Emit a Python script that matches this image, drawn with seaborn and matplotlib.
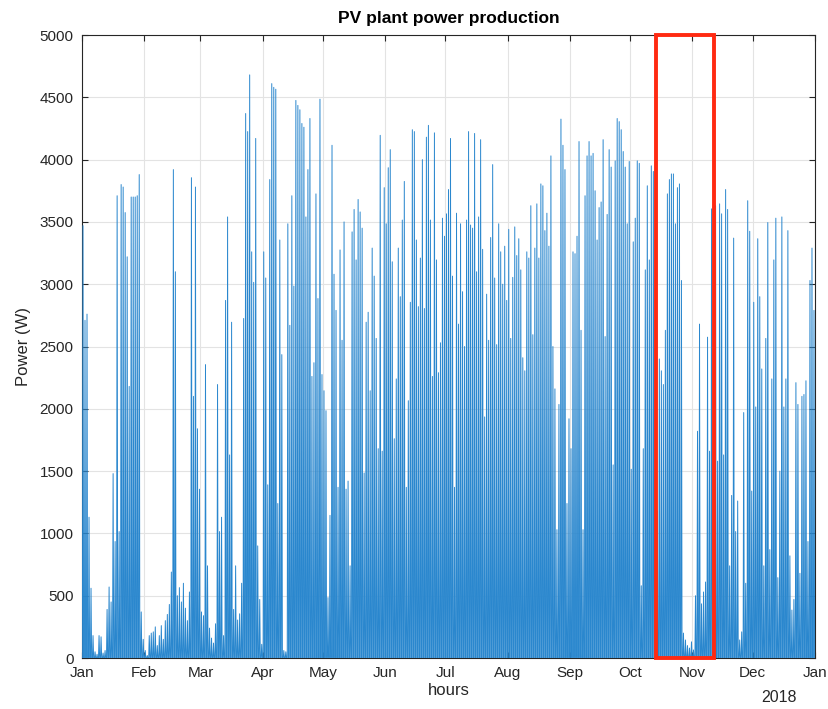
import numpy as np
import pandas as pd
import matplotlib
matplotlib.use("Agg")
import matplotlib.pyplot as plt
import matplotlib.dates as mdates
from matplotlib.patches import Rectangle
import seaborn as sns

# ---------------- data: daily peak power (W) ----------------
YEAR = 2018
jan = [3470, 2710, 2760, 1130, 560, 180, 50, 30, 180, 170, 40, 60, 390, 570, 450, 1480,
       935, 3710, 1015, 3800, 3780, 3575, 3220, 2180, 3700, 3700, 3700, 3710, 3880, 370, 150]
feb = [60, 20, 180, 200, 210, 250, 100, 180, 260, 150, 300, 350, 430, 690,
       3920, 3100, 500, 565, 450, 600, 400, 300, 530, 3855, 2100, 3780, 1840, 1355]
mar = [370, 340, 2355, 740, 240, 160, 120, 275, 2195, 1015, 1130, 180, 2870, 3540, 1630, 2695,
       390, 740, 305, 355, 600, 2725, 4370, 4225, 4680, 3260, 3015, 4170, 900, 470, 110]
apr = [3260, 3050, 1390, 3840, 4610, 4580, 4565, 1240, 3355, 2435, 60, 50, 3485, 2670, 3710,
       2985, 4475, 4435, 4400, 4290, 4260, 3540, 3920, 4330, 2260, 2370, 3725, 2885, 4485, 2275]
may = [2145, 1985, 485, 1145, 4115, 3080, 2790, 1370, 3275, 2550, 3500, 1355, 1420, 740, 3420,
       3600, 3195, 3680, 3580, 3450, 1485, 2695, 2775, 2145, 3290, 3065, 2565, 1680, 4195, 1660, 3775]
jun = [3485, 3935, 4080, 3180, 1760, 2240, 3290, 2900, 3515, 3825, 1370, 2065, 2855, 4240, 4225,
       3355, 2820, 3210, 4000, 2805, 4180, 4275, 3515, 2260, 4215, 3195, 2290, 2530, 3530, 3385]
jul = [3565, 3760, 4170, 3065, 1370, 3570, 2680, 3485, 2940, 2500, 3515, 4225, 3475, 3450, 4210,
       3100, 3540, 4160, 3280, 1935, 2920, 2550, 3375, 3960, 3050, 2515, 3485, 3260, 3000, 3305, 2870]
aug = [3440, 2565, 3055, 3460, 3230, 3365, 3115, 2410, 2305, 3260, 3210, 3630, 2595, 3290, 3645,
       3210, 3805, 3790, 3430, 3570, 3305, 4030, 2500, 2160, 1030, 2035, 4325, 4115, 3920, 1240, 1920]
sep = [1680, 3260, 3245, 3385, 4145, 2630, 1030, 3710, 4030, 4145, 4030, 4050, 3750, 3355, 3615,
       3660, 4160, 2580, 3560, 4080, 3940, 1550, 3990, 4330, 4305, 4240, 4065, 3940, 3485, 3985]
oct_ = [1515, 3340, 3530, 3990, 3970, 580, 1680, 3115, 3790, 3195, 3950, 3905, 3960, 1180, 2400,
        2305, 2195, 2630, 3725, 3840, 3885, 3885, 3485, 3775, 3805, 3030, 200, 145, 100, 80, 130]
nov = [65, 500, 1820, 2680, 435, 530, 610, 2575, 1660, 3605, 385, 3630, 1580, 3645, 3565,
       1630, 3760, 3600, 740, 1305, 3370, 1015, 1260, 145, 210, 1970, 600, 3670, 3425, 1340]
dec = [2855, 2015, 3365, 2900, 2320, 740, 2565, 3495, 870, 2240, 3195, 3530, 645, 1500, 3540,
       2015, 2240, 3430, 820, 385, 470, 2210, 2035, 680, 2100, 2115, 2225, 935, 3030, 3290, 2790]

month_ticks = ["Jan", "Feb", "Mar", "Apr", "May", "Jun", "Jul", "Aug", "Sep", "Oct", "Nov", "Dec", "Jan"]
y_ticks = list(range(0, 5001, 500))
highlight_start = "2018-10-14 00:00"
highlight_end = "2018-11-11 18:00"

# ---------------- build hourly-ish series (night 0, noon peak) ----------------
peaks = jan + feb + mar + apr + may + jun + jul + aug + sep + oct_ + nov + dec
days = pd.date_range(f"{YEAR}-01-01", periods=len(peaks), freq="D")
rows = []
for d, p in zip(days, peaks):
    rows.append((d + pd.Timedelta(hours=5), 0.0))
    rows.append((d + pd.Timedelta(hours=12), float(p)))
    rows.append((d + pd.Timedelta(hours=19), 0.0))
df = pd.DataFrame(rows, columns=["time", "power"])

# ---------------- plot ----------------
sns.set_style("ticks")
plt.rcParams["font.family"] = ["Liberation Sans", "DejaVu Sans"]

fig = plt.figure(figsize=(8.29, 7.09), dpi=100)
ax = fig.add_axes([0.0989, 0.0719, 0.8842, 0.8787])

sns.lineplot(data=df, x="time", y="power", estimator=None, sort=False,
             color="#2A87CE", linewidth=0.7, ax=ax)
for ln in ax.lines:
    ln.set_zorder(3)

ax.set_xlim(pd.Timestamp(f"{YEAR}-01-01"), pd.Timestamp(f"{YEAR + 1}-01-01"))
ax.set_ylim(0, 5000)
ax.set_yticks(y_ticks)
ax.set_yticklabels([str(v) for v in y_ticks])
xt = pd.date_range(f"{YEAR}-01-01", f"{YEAR + 1}-01-01", freq="MS")
ax.set_xticks(xt)
ax.set_xticklabels(month_ticks)

ax.grid(True, color="#E3E3E3", linewidth=0.8)
ax.set_axisbelow(True)
for s in ax.spines.values():
    s.set_color("#262626")
    s.set_linewidth(0.8)
    s.set_visible(True)
    s.set_zorder(2.5)
ax.tick_params(direction="in", length=4, width=0.8, color="#262626",
               labelsize=11, labelcolor="#262626", top=True, right=True,
               labeltop=False, labelright=False, pad=6)

ax.set_title("PV plant power production", fontsize=12.5, fontweight="bold",
             color="#000000", pad=9)
ax.set_ylabel("Power (W)", fontsize=12, color="#262626", labelpad=6)
ax.set_xlabel("hours", fontsize=12, color="#262626", labelpad=2)
ax.text(0.951, -0.051, str(YEAR), transform=ax.transAxes, ha="center", va="top",
        fontsize=11.5, color="#262626")

x0 = mdates.date2num(pd.Timestamp(highlight_start))
x1 = mdates.date2num(pd.Timestamp(highlight_end))
ax.add_patch(Rectangle((x0, 0), x1 - x0, 5000, fill=False, edgecolor="#FF2A12",
                       linewidth=2.8, zorder=5, clip_on=False))

fig.savefig("out.png", dpi=100)
